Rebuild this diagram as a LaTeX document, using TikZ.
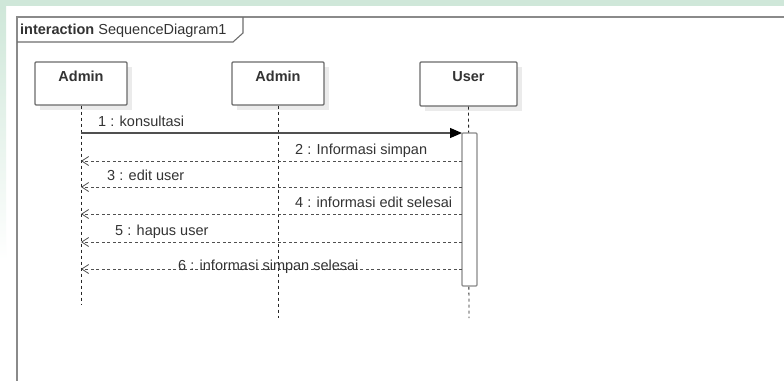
\documentclass[tikz,border=0pt]{standalone}
\usepackage{fontspec}
\setmainfont{Liberation Sans}
\usetikzlibrary{arrows.meta}
\definecolor{paleGreen}{HTML}{CFE7D9}
\definecolor{frameGrey}{HTML}{8A8A8A}
\definecolor{boxGrey}{HTML}{6A6A6A}
\definecolor{shadowGrey}{HTML}{EBEBEB}
\definecolor{lineGrey}{HTML}{505050}
\definecolor{txtGrey}{HTML}{333333}
\tikzset{
  txt/.style={font=\fontsize{14.5}{16}\selectfont, text=txtGrey, inner sep=0pt},
  lifebox/.style={draw=boxGrey, line width=1.2pt, fill=white, minimum width=92pt,
                  minimum height=43pt, inner sep=0pt, rounded corners=1pt},
  boxshadow/.style={fill=shadowGrey},
  lifeline/.style={draw=black!85, line width=0.9pt, dash pattern=on 3pt off 3pt},
  actbar/.style={draw=frameGrey, line width=1.1pt, fill=white, minimum width=15pt,
                 minimum height=153pt, inner sep=0pt, rounded corners=1pt},
  callmsg/.style={draw=lineGrey, line width=1.2pt,
                  -{Triangle[length=12pt,width=10pt,fill=black,color=black]}},
  replymsg/.style={draw=lineGrey, line width=0.8pt, dash pattern=on 3pt off 2.5pt,
                   -{Straight Barb[length=7pt,width=9pt]}},
}
\begin{document}
\begin{tikzpicture}[x=1pt,y=-1pt]
\useasboundingbox (0,0) rectangle (784,381);
\fill[white] (0,0) rectangle (784,381);
% light backdrop strips around the frame
\fill[paleGreen] (0,0) rectangle (784,6);
\shade[top color=paleGreen, bottom color=white] (0,6) rectangle (6,260);

% interaction frame and its tab
\draw[frameGrey, line width=1.6pt] (784,17) -- (17,17) -- (17,381);
\draw[frameGrey!80!black, line width=1.1pt] (17,42) -- (233,42) -- (243,33) -- (243,17);
\node[txt, anchor=base west] (title) at (20,34) {\textbf{interaction} SequenceDiagram1};

% lifeline heads
\fill[boxshadow] (40,67) rectangle (132,110);
\fill[boxshadow] (237,67) rectangle (329,110);
\fill[boxshadow] (425,67) rectangle (522,111);
\node[lifebox] (adminA) at (81,83.5) {};
\node[lifebox] (adminB) at (278,83.5) {};
\node[lifebox, minimum width=97pt, minimum height=44pt] (user) at (468.5,84) {};
\node[txt, anchor=base] (adminAname) at (81,81.5) {\textbf{Admin}};
\node[txt, anchor=base] (adminBname) at (278,81.5) {\textbf{Admin}};
\node[txt, anchor=base] (username) at (468.5,81.5) {\textbf{User}};

% lifeline ends
\coordinate (adminAend) at (81,305);
\coordinate (adminBend) at (278,318);
\coordinate (userend) at (469,318);
\draw[lifeline] (adminA.south) -- (adminAend);
\draw[lifeline] (adminB.south) -- (adminBend);
\draw[lifeline] (user.south) -- (userend);

% activation on User
\node[actbar] (act) at (469.5,209.5) {};

% message anchors on the Admin lifeline and the activation bar
\foreach \n/\y in {1/133,2/161,3/187,4/214,5/242,6/269}{
  \coordinate (a\n) at (81,\y);
  \coordinate (u\n) at (462,\y);
}

\draw[callmsg] (a1) -- (u1);
\draw[replymsg] (u2) -- (a2);
\draw[replymsg] (u3) -- (a3);
\draw[replymsg] (u4) -- (a4);
\draw[replymsg] (u5) -- (a5);
\draw[replymsg] (u6) -- (a6);

% message labels
\node[txt, anchor=base west] (l1) at (98,126) {1 : konsultasi};
\node[txt, anchor=base west] (l2) at (295,154) {2 : Informasi simpan};
\node[txt, anchor=base west] (l3) at (107,180) {3 : edit user};
\node[txt, anchor=base west] (l4) at (295,207) {4 : informasi edit selesai};
\node[txt, anchor=base west] (l5) at (115,235) {5 : hapus user};
\node[txt, anchor=base west] (l6) at (178,270) {6 : informasi simpan selesai};
\end{tikzpicture}
\end{document}
